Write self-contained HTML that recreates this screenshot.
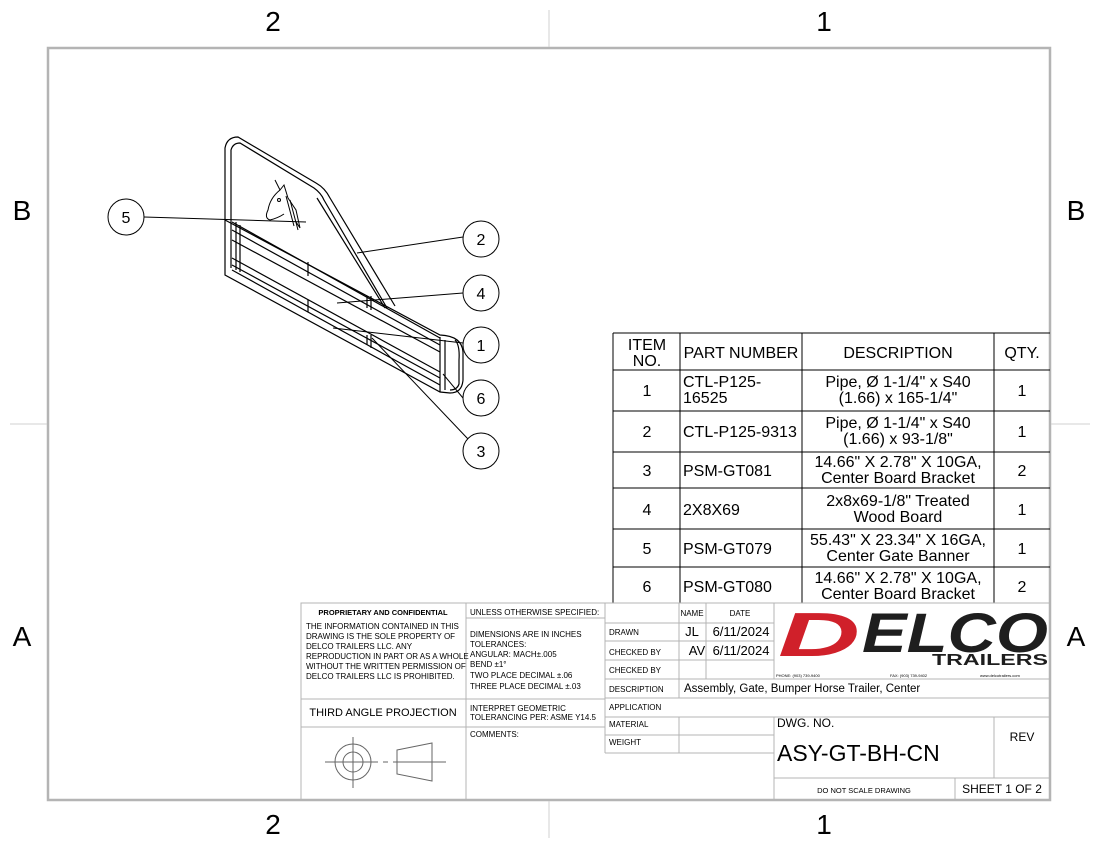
<!DOCTYPE html>
<html><head><meta charset="utf-8"><style>
html,body{margin:0;padding:0;background:#fff;}
svg{display:block;font-family:"Liberation Sans",sans-serif;}
</style></head><body>
<svg width="1100" height="850" viewBox="0 0 1100 850" xmlns="http://www.w3.org/2000/svg">
<rect x="48" y="48" width="1002" height="752" fill="none" stroke="#b4b4b4" stroke-width="2.5"/>
<g stroke="#d0d0d0" stroke-width="1">
<line x1="549" y1="10" x2="549" y2="47"/><line x1="549" y1="801" x2="549" y2="838"/>
<line x1="10" y1="424" x2="47" y2="424"/><line x1="1051" y1="424" x2="1090" y2="424"/>
</g>
<g font-size="28" fill="#000" text-anchor="middle">
<text x="273" y="31">2</text><text x="824" y="31">1</text>
<text x="273" y="834">2</text><text x="824" y="834">1</text>
<text x="22" y="220">B</text><text x="1076" y="220">B</text>
<text x="22" y="646">A</text><text x="1076" y="646">A</text>
</g>

<g fill="none" stroke="#000" stroke-width="1.2">
<path d="M225,268 L225,148 Q227,137 238,137 L316,183 Q325,188 330,198 L395,306"/>
<path d="M231,268 L231,150 Q233,143 240,143 L314,188 Q321,193 324,200 L387,308"/>
<path d="M317,198 L385,308"/>
<path d="M225,220 L440,335 Q462,336 463,352 L463,380 Q462,393 450,393 L440,392 L225,275 L225,268"/>
<path d="M232,222 L440,338"/>
<path d="M232,230 L440,345"/>
<path d="M232,240 L440,352"/>
<path d="M232,258 L440,372"/>
<path d="M232,265 L440,378"/>
<path d="M232,270 L440,385"/>
<line x1="440" y1="337" x2="440" y2="392"/>
<line x1="445" y1="340" x2="445" y2="390"/>
<path d="M455,340 Q460,345 459,360 L459,384 Q457,390 450,390"/>
<line x1="236" y1="222" x2="236" y2="270"/>
<line x1="240" y1="225" x2="240" y2="272"/>
<line x1="308" y1="262" x2="308" y2="276"/><line x1="308" y1="300" x2="308" y2="312"/>
<line x1="367" y1="296" x2="367" y2="308"/><line x1="371" y1="296" x2="371" y2="310"/>
<line x1="367" y1="335" x2="367" y2="345"/><line x1="371" y1="335" x2="371" y2="348"/>
</g>
<g fill="none" stroke="#000" stroke-width="1">
<path d="M275,180 L280,190 L284,185 L288,198 L296,210 L300,228 L296,222"/>
<path d="M280,190 Q270,198 268,210 Q264,218 270,220 Q278,218 284,214"/>
<path d="M286,196 L294,226 M290,200 L298,230"/>
<circle cx="279" cy="200" r="1.5"/>
</g>
<g fill="#fff" stroke="#000" stroke-width="1">
<line x1="144" y1="217" x2="306" y2="222"/>
<line x1="463" y1="237" x2="357" y2="253"/>
<line x1="463" y1="293" x2="337" y2="303"/>
<line x1="463" y1="343" x2="333" y2="328"/>
<line x1="463" y1="398" x2="443" y2="374"/>
<line x1="468" y1="439" x2="372" y2="338"/>
<circle cx="126" cy="217" r="18"/>
<circle cx="481" cy="239" r="18"/>
<circle cx="481" cy="293" r="18"/>
<circle cx="481" cy="345" r="18"/>
<circle cx="481" cy="398" r="18"/>
<circle cx="481" cy="451" r="18"/>
</g>
<g font-size="16" text-anchor="middle" fill="#000">
<text x="126" y="223">5</text><text x="481" y="245">2</text><text x="481" y="299">4</text>
<text x="481" y="351">1</text><text x="481" y="404">6</text><text x="481" y="457">3</text>
</g>

<g stroke="#000" stroke-width="1" fill="none">
<line x1="613" y1="333" x2="1050" y2="333"/>
<line x1="613" y1="370" x2="1050" y2="370"/>
<line x1="613" y1="411" x2="1050" y2="411"/>
<line x1="613" y1="452" x2="1050" y2="452"/>
<line x1="613" y1="488" x2="1050" y2="488"/>
<line x1="613" y1="529" x2="1050" y2="529"/>
<line x1="613" y1="567" x2="1050" y2="567"/>
<line x1="613" y1="333" x2="613" y2="603"/>
<line x1="680" y1="333" x2="680" y2="603"/>
<line x1="802" y1="333" x2="802" y2="603"/>
<line x1="994" y1="333" x2="994" y2="603"/>
</g>
<g font-size="16" fill="#000">
<text x="647" y="350" text-anchor="middle">ITEM</text><text x="647" y="366" text-anchor="middle">NO.</text>
<text x="741" y="358" text-anchor="middle">PART NUMBER</text>
<text x="898" y="358" text-anchor="middle">DESCRIPTION</text>
<text x="1022" y="358" text-anchor="middle">QTY.</text>
<g text-anchor="middle">
<text x="647" y="396">1</text><text x="647" y="437">2</text><text x="647" y="476">3</text>
<text x="647" y="515">4</text><text x="647" y="554">5</text><text x="647" y="592">6</text>
<text x="1022" y="396">1</text><text x="1022" y="437">1</text><text x="1022" y="476">2</text>
<text x="1022" y="515">1</text><text x="1022" y="554">1</text><text x="1022" y="592">2</text>
<text x="898" y="387">Pipe, Ø 1-1/4" x S40</text><text x="898" y="403">(1.66) x 165-1/4"</text>
<text x="898" y="428">Pipe, Ø 1-1/4" x S40</text><text x="898" y="444">(1.66) x 93-1/8"</text>
<text x="898" y="467">14.66" X 2.78" X 10GA,</text><text x="898" y="483">Center Board Bracket</text>
<text x="898" y="506">2x8x69-1/8" Treated</text><text x="898" y="522">Wood Board</text>
<text x="898" y="545">55.43" X 23.34" X 16GA,</text><text x="898" y="561">Center Gate Banner</text>
<text x="898" y="583">14.66" X 2.78" X 10GA,</text><text x="898" y="599">Center Board Bracket</text>
</g>
<text x="683" y="387">CTL-P125-</text><text x="683" y="403">16525</text>
<text x="683" y="437">CTL-P125-9313</text>
<text x="683" y="476">PSM-GT081</text>
<text x="683" y="515">2X8X69</text>
<text x="683" y="554">PSM-GT079</text>
<text x="683" y="592">PSM-GT080</text>
</g>

<g stroke="#b4b4b4" stroke-width="1" fill="none">
<rect x="301" y="603" width="749" height="197"/>
<line x1="466" y1="603" x2="466" y2="800"/>
<line x1="605" y1="603" x2="605" y2="753"/>
<line x1="301" y1="699" x2="605" y2="699"/>
<line x1="301" y1="727" x2="605" y2="727"/>
<line x1="466" y1="618" x2="605" y2="618"/>
<line x1="679" y1="603" x2="679" y2="698"/>
<line x1="679" y1="717" x2="679" y2="753"/>
<line x1="706" y1="603" x2="706" y2="679"/>
<line x1="774" y1="603" x2="774" y2="679"/>
<line x1="774" y1="717" x2="774" y2="800"/>
<line x1="605" y1="623" x2="774" y2="623"/>
<line x1="605" y1="641" x2="774" y2="641"/>
<line x1="605" y1="660" x2="774" y2="660"/>
<line x1="605" y1="679" x2="1050" y2="679"/>
<line x1="605" y1="698" x2="1050" y2="698"/>
<line x1="605" y1="717" x2="1050" y2="717"/>
<line x1="605" y1="735" x2="774" y2="735"/>
<line x1="605" y1="753" x2="774" y2="753"/>
<line x1="774" y1="778" x2="1050" y2="778"/>
<line x1="994" y1="717" x2="994" y2="778"/>
<line x1="955" y1="778" x2="955" y2="800"/>
</g>
<g fill="#000" font-size="8">
<text x="383" y="615" text-anchor="middle" font-weight="bold" font-size="7.5">PROPRIETARY AND CONFIDENTIAL</text>
<text x="306" y="629">THE INFORMATION CONTAINED IN THIS</text>
<text x="306" y="639">DRAWING IS THE SOLE PROPERTY OF</text>
<text x="306" y="649">DELCO TRAILERS LLC.  ANY</text>
<text x="306" y="659">REPRODUCTION IN PART OR AS A WHOLE</text>
<text x="306" y="669">WITHOUT THE WRITTEN PERMISSION OF</text>
<text x="306" y="679">DELCO TRAILERS LLC IS PROHIBITED.</text>
<text x="383" y="716" text-anchor="middle" font-size="11">THIRD ANGLE PROJECTION</text>
<text x="470" y="615">UNLESS OTHERWISE SPECIFIED:</text>
<text x="470" y="637">DIMENSIONS ARE IN INCHES</text>
<text x="470" y="647">TOLERANCES:</text>
<text x="470" y="657">ANGULAR: MACH±.005</text>
<text x="470" y="667">BEND ±1°</text>
<text x="470" y="678">TWO PLACE DECIMAL    ±.06</text>
<text x="470" y="689">THREE PLACE DECIMAL  ±.03</text>
<text x="470" y="711">INTERPRET GEOMETRIC</text>
<text x="470" y="720">TOLERANCING PER: ASME Y14.5</text>
<text x="470" y="737">COMMENTS:</text>
<text x="692" y="616" text-anchor="middle">NAME</text>
<text x="740" y="616" text-anchor="middle">DATE</text>
<text x="609" y="635">DRAWN</text>
<text x="609" y="655">CHECKED BY</text>
<text x="609" y="673">CHECKED BY</text>
<text x="609" y="692">DESCRIPTION</text>
<text x="609" y="710">APPLICATION</text>
<text x="609" y="727">MATERIAL</text>
<text x="609" y="745">WEIGHT</text>
<text x="692" y="636" text-anchor="middle" font-size="13">JL</text>
<text x="741" y="636" text-anchor="middle" font-size="13">6/11/2024</text>
<text x="697" y="655" text-anchor="middle" font-size="13">AV</text>
<text x="741" y="655" text-anchor="middle" font-size="13">6/11/2024</text>
<text x="684" y="692" font-size="11.5">Assembly, Gate, Bumper Horse Trailer, Center</text>
<text x="777" y="727" font-size="12">DWG.  NO.</text>
<text x="777" y="761" font-size="23">ASY-GT-BH-CN</text>
<text x="1022" y="741" text-anchor="middle" font-size="12">REV</text>
<text x="864" y="793" text-anchor="middle" font-size="7.5">DO NOT SCALE DRAWING</text>
<text x="1002" y="793" text-anchor="middle" font-size="12">SHEET 1 OF 2</text>
<text x="776" y="677" font-size="4">PHONE: (903) 739-9400</text>
<text x="890" y="677" font-size="4">FAX: (903) 739-9402</text>
<text x="980" y="677" font-size="4">www.delcotrailers.com</text>
</g>
<text x="778" y="656" font-size="62" font-weight="bold" font-style="italic" fill="#d0202a" textLength="82" lengthAdjust="spacingAndGlyphs">D</text>
<text x="862" y="652" font-size="56" font-weight="bold" font-style="italic" fill="#1e1e1e" textLength="186" lengthAdjust="spacingAndGlyphs">ELCO</text>
<text x="932" y="665" font-size="16" font-weight="bold" fill="#1e1e1e" textLength="116" lengthAdjust="spacingAndGlyphs">TRAILERS</text>
<g stroke="#666" stroke-width="1" fill="none">
<circle cx="353" cy="762" r="18"/><circle cx="353" cy="762" r="10"/>
<line x1="325" y1="762" x2="378" y2="762"/><line x1="353" y1="737" x2="353" y2="788"/>
<line x1="383" y1="762" x2="388" y2="762"/>
<path d="M397,750 L432,743 L432,781 L397,774 Z"/>
<line x1="393" y1="762" x2="446" y2="762"/>
</g>
</svg>
</body></html>
